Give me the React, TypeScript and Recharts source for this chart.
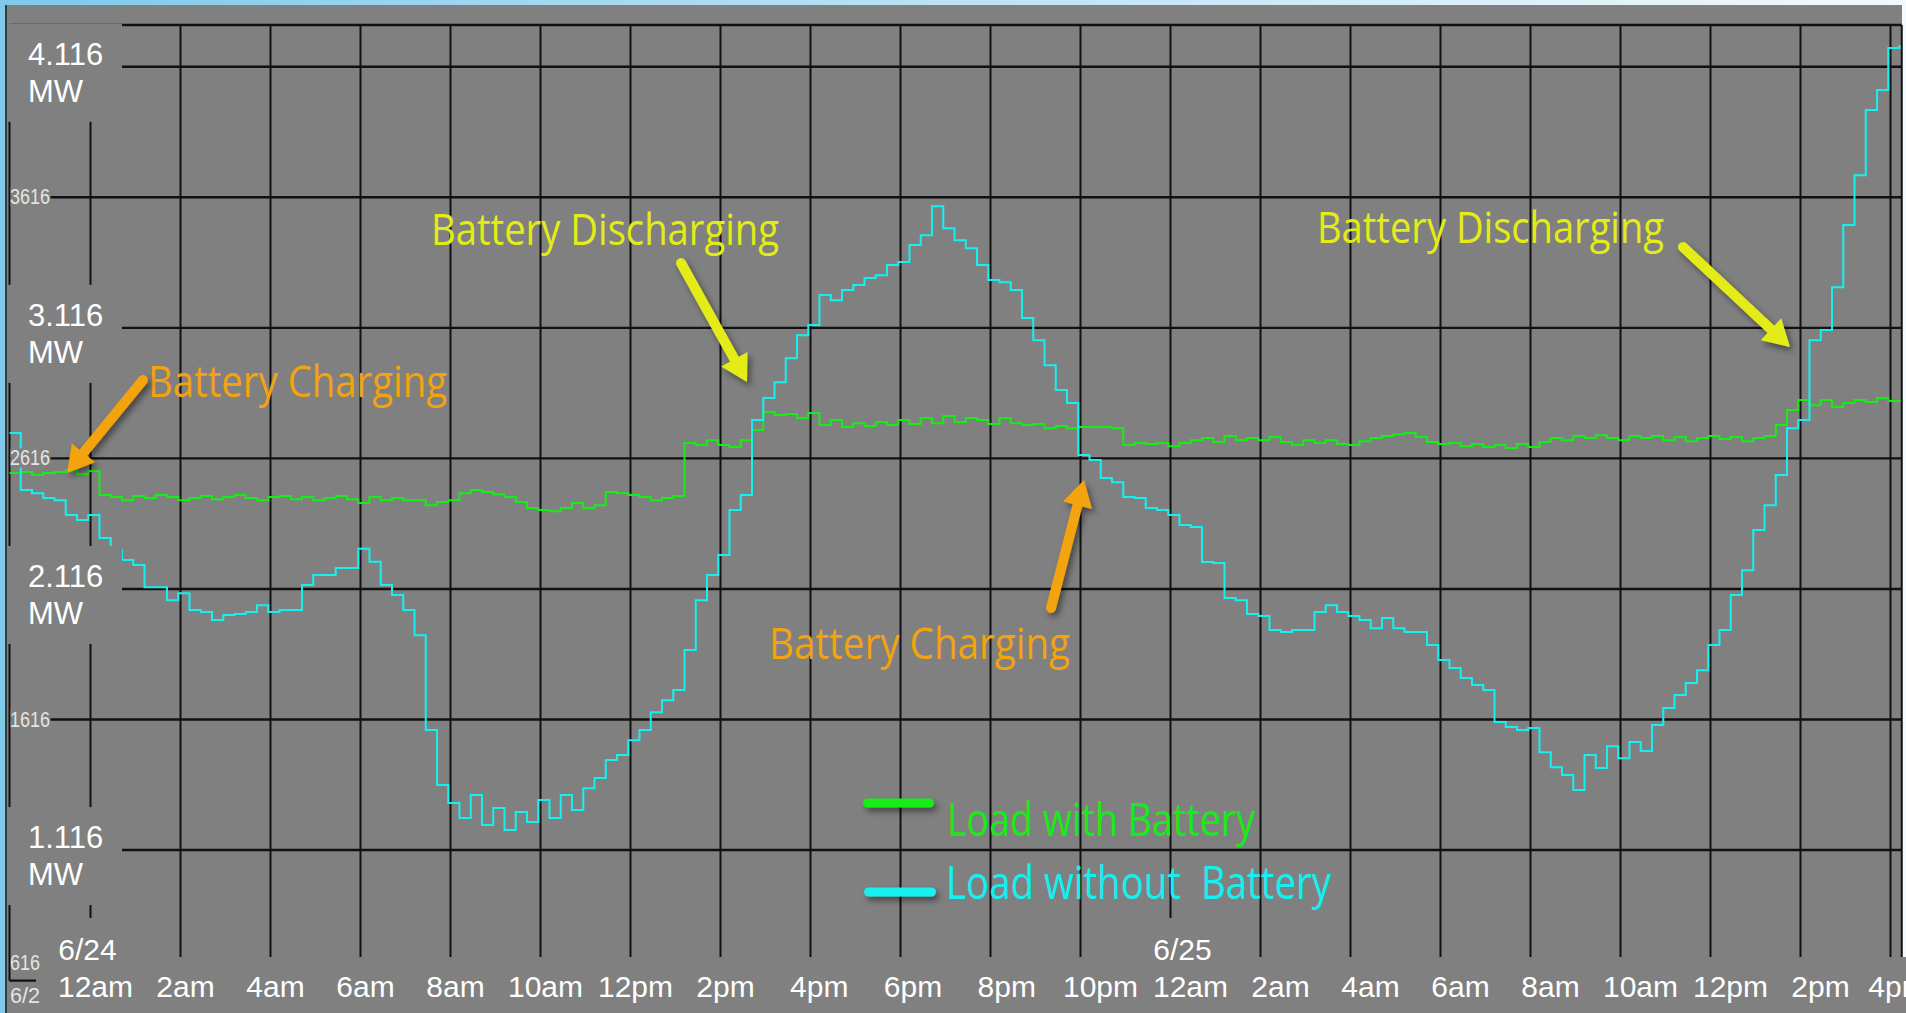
import { CartesianGrid, Line, LineChart, XAxis, YAxis } from "recharts";

// samples every 15 minutes, hours counted from 6/24 12am
const START_HOUR = -1.8;
const STEP_HOURS = 0.25;
const END_HOUR = 40.25;
const BOTTOM_MW = 0.616;
const TOP_MW = 4.276;

const xTicks = [-1.8, 0, 2, 4, 6, 8, 10, 12, 14, 16, 18, 20, 22, 24, 26, 28, 30, 32, 34, 36, 38, 40];
const xTickLabels = [
  "", "12am", "2am", "4am", "6am", "8am", "10am", "12pm", "2pm", "4pm", "6pm",
  "8pm", "10pm", "12am", "2am", "4am", "6am", "8am", "10am", "12pm", "2pm", "4pm",
];
const dateTicks = [0, 24];
const dateLabels = ["6/24", "6/25"];

const yTicks = [0.616, 1.116, 1.616, 2.116, 2.616, 3.116, 3.616, 4.116, 4.276];
const yTickLabels = ["616", "1.116 MW", "1616", "2.116 MW", "2616", "3.116 MW", "3616", "4.116 MW", ""];

// MW, load with battery (green)
const withBattery = [
  2.560, 2.564, 2.552, 2.560, 2.564, 2.571, 2.556, 2.568, 2.476, 2.468, 2.456, 2.472,
  2.464, 2.476, 2.468, 2.456, 2.464, 2.472, 2.460, 2.468, 2.476, 2.464, 2.456, 2.468,
  2.472, 2.460, 2.468, 2.456, 2.464, 2.472, 2.460, 2.445, 2.468, 2.456, 2.464, 2.456,
  2.456, 2.437, 2.449, 2.456, 2.483, 2.495, 2.487, 2.479, 2.468, 2.449, 2.426, 2.418,
  2.414, 2.426, 2.445, 2.426, 2.437, 2.487, 2.483, 2.476, 2.468, 2.456, 2.464, 2.472,
  2.675, 2.667, 2.686, 2.667, 2.660, 2.686, 2.725, 2.794, 2.782, 2.786, 2.771, 2.790,
  2.744, 2.763, 2.736, 2.751, 2.740, 2.755, 2.744, 2.763, 2.748, 2.771, 2.751, 2.778,
  2.755, 2.771, 2.763, 2.748, 2.771, 2.751, 2.744, 2.748, 2.732, 2.740, 2.732, 2.736,
  2.736, 2.736, 2.732, 2.667, 2.675, 2.671, 2.675, 2.663, 2.675, 2.686, 2.694, 2.679,
  2.702, 2.686, 2.694, 2.686, 2.698, 2.679, 2.667, 2.686, 2.675, 2.686, 2.671, 2.667,
  2.682, 2.694, 2.702, 2.709, 2.713, 2.698, 2.679, 2.671, 2.675, 2.663, 2.671, 2.660,
  2.667, 2.656, 2.671, 2.660, 2.679, 2.694, 2.686, 2.702, 2.694, 2.705, 2.694, 2.686,
  2.702, 2.694, 2.702, 2.686, 2.698, 2.682, 2.694, 2.702, 2.690, 2.698, 2.682, 2.694,
  2.702, 2.744, 2.801, 2.840, 2.820, 2.840, 2.813, 2.828, 2.840, 2.832, 2.847, 2.836, 2.840,
];

// MW, load without battery (cyan)
const withoutBattery = [
  2.713, 2.495, 2.483, 2.464, 2.456, 2.399, 2.380, 2.399, 2.311, 2.265, 2.227, 2.208,
  2.123, 2.123, 2.073, 2.100, 2.035, 2.028, 1.997, 2.016, 2.020, 2.028, 2.054, 2.028,
  2.035, 2.035, 2.131, 2.169, 2.169, 2.196, 2.196, 2.270, 2.220, 2.131, 2.093, 2.035,
  1.939, 1.576, 1.365, 1.296, 1.239, 1.327, 1.212, 1.277, 1.193, 1.262, 1.223, 1.308,
  1.239, 1.327, 1.269, 1.353, 1.392, 1.461, 1.480, 1.537, 1.576, 1.644, 1.690, 1.729,
  1.882, 2.073, 2.169, 2.246, 2.418, 2.476, 2.763, 2.847, 2.908, 3.000, 3.088, 3.127,
  3.242, 3.222, 3.261, 3.280, 3.307, 3.318, 3.357, 3.368, 3.433, 3.471, 3.582, 3.498,
  3.452, 3.421, 3.357, 3.299, 3.291, 3.261, 3.154, 3.069, 2.973, 2.878, 2.828, 2.629,
  2.610, 2.541, 2.525, 2.468, 2.464, 2.426, 2.418, 2.399, 2.361, 2.353, 2.219, 2.215,
  2.081, 2.073, 2.020, 2.012, 1.959, 1.951, 1.959, 1.959, 2.028, 2.054, 2.028, 2.012,
  1.997, 1.966, 2.005, 1.966, 1.951, 1.951, 1.901, 1.844, 1.813, 1.775, 1.748, 1.729,
  1.606, 1.587, 1.576, 1.583, 1.491, 1.433, 1.403, 1.346, 1.480, 1.430, 1.514, 1.468,
  1.530, 1.495, 1.595, 1.660, 1.710, 1.756, 1.805, 1.901, 1.959, 2.093, 2.188, 2.342,
  2.437, 2.552, 2.732, 2.763, 3.069, 3.108, 3.272, 3.510, 3.701, 3.950, 4.027, 4.188, 4.199,
];

const rows = withBattery.map((v, i) => ({
  t: START_HOUR + i * STEP_HOURS,
  withBattery: v,
  withoutBattery: withoutBattery[i],
}));

const GRAY = "#808080";
const GREEN = "#16EC16";
const CYAN = "#14F0F0";
const ORANGE = "#F2A30F";
const YELLOW = "#E3EC14";
const AXIS_FONT = "'Liberation Sans', Arial, sans-serif";
const NOTE_FONT = "'Open Sans', 'Noto Sans', sans-serif";

// the pasted labels drift right a little as the day goes on
function labelShift(t: number) {
  if (t >= 40) return 7;
  if (t <= 14) return 5;
  if (t >= 22) return 20;
  return 5 + ((t - 14) * 15) / 8;
}

function renderXTick(props: any) {
  const { x, payload } = props;
  const t = payload.value;
  const i = xTicks.indexOf(t);
  if (i === 0) {
    return <rect x={36} y={957} width={1870} height={56} fill={GRAY} />;
  }
  const cx = x + labelShift(t);
  const d = dateTicks.indexOf(t);
  return (
    <g>
      {d >= 0 && <rect x={x - 45} y={918} width={105} height={40} fill={GRAY} />}
      {d >= 0 && (
        <text x={cx - 8} y={960} textAnchor="middle" fill="#fff" fontSize={30} fontFamily={AXIS_FONT}>
          {dateLabels[d]}
        </text>
      )}
      <text x={cx} y={997} textAnchor="middle" fill="#fff" fontSize={30} fontFamily={AXIS_FONT}>
        {xTickLabels[i]}
      </text>
    </g>
  );
}

function renderYTick(props: any) {
  const { y, payload } = props;
  const i = yTicks.indexOf(payload.value);
  const label = yTickLabels[i];
  if (!label) return <g />;
  if (label.includes("MW")) {
    const [num, unit] = label.split(" ");
    return (
      <g>
        <rect x={7} y={y - 43} width={115} height={98} fill={GRAY} />
        <text x={28} y={y - 2} fill="#fff" fontSize={31} fontFamily={AXIS_FONT}>
          {num}
        </text>
        <text x={28} y={y + 35} fill="#fff" fontSize={31} fontFamily={AXIS_FONT}>
          {unit}
        </text>
      </g>
    );
  }
  if (i === 0) {
    return (
      <g fill="#e4e4e4" fontSize={22} fontFamily={AXIS_FONT}>
        <text x={10} y={y - 11} textLength={30} lengthAdjust="spacingAndGlyphs">{label}</text>
        <text x={10} y={y + 22} textLength={30} lengthAdjust="spacingAndGlyphs">6/2</text>
      </g>
    );
  }
  return (
    <g>
      <rect x={10.5} y={y - 10} width={40} height={19} fill={GRAY} />
      <text x={10} y={y + 7} fill="#e4e4e4" fontSize={22} fontFamily={AXIS_FONT} textLength={40} lengthAdjust="spacingAndGlyphs">
        {label}
      </text>
    </g>
  );
}

const notes = [
  { text: "Battery Charging", x: 148, y: 397, w: 299, color: ORANGE },
  { text: "Battery Discharging", x: 431, y: 245, w: 348, color: YELLOW },
  { text: "Battery Discharging", x: 1317, y: 243, w: 347, color: YELLOW },
  { text: "Battery Charging", x: 769, y: 659, w: 301, color: ORANGE },
];

const arrows = [
  { x1: 143, y1: 380, x2: 67, y2: 473, color: ORANGE },
  { x1: 681, y1: 263, x2: 747, y2: 382, color: YELLOW },
  { x1: 1051, y1: 608, x2: 1084, y2: 480, color: ORANGE },
  { x1: 1683, y1: 247, x2: 1790, y2: 347, color: YELLOW },
];

function Arrow({ x1, y1, x2, y2, color }: { x1: number; y1: number; x2: number; y2: number; color: string }) {
  const len = Math.hypot(x2 - x1, y2 - y1);
  const ux = (x2 - x1) / len;
  const uy = (y2 - y1) / len;
  const head = 26;
  const half = 15;
  const bx = x2 - ux * head;
  const by = y2 - uy * head;
  return (
    <g filter="url(#dropShadow)">
      <line x1={x1} y1={y1} x2={bx + ux * 3} y2={by + uy * 3} stroke={color} strokeWidth={10} strokeLinecap="round" />
      <polygon
        points={`${x2},${y2} ${bx - uy * half},${by + ux * half} ${bx + uy * half},${by - ux * half}`}
        fill={color}
      />
    </g>
  );
}

function Overlay() {
  return (
    <svg width={1906} height={1013} style={{ position: "absolute", left: 0, top: 0, pointerEvents: "none" }}>
      <defs>
        <filter id="dropShadow" filterUnits="userSpaceOnUse" x={0} y={0} width={1906} height={1013}>
          <feDropShadow dx={3} dy={4} stdDeviation={3} floodColor="#000" floodOpacity={0.45} />
        </filter>
      </defs>
      {notes.map((n, i) => (
        <text key={i} x={n.x} y={n.y} fill={n.color} fontSize={44} fontFamily={NOTE_FONT} textLength={n.w} lengthAdjust="spacingAndGlyphs">
          {n.text}
        </text>
      ))}
      {arrows.map((a, i) => (
        <Arrow key={i} {...a} />
      ))}
      {/* legend */}
      <rect x={863} y={798.5} width={71} height={9} rx={4.5} fill={GREEN} filter="url(#dropShadow)" />
      <rect x={864} y={887.5} width={72} height={9} rx={4.5} fill={CYAN} filter="url(#dropShadow)" />
      <text x={947} y={836} fill={GREEN} fontSize={46} fontFamily={NOTE_FONT} textLength={308} lengthAdjust="spacingAndGlyphs">
        Load with Battery
      </text>
      <text x={946} y={899} fill={CYAN} fontSize={46} fontFamily={NOTE_FONT} textLength={385} lengthAdjust="spacingAndGlyphs" style={{ whiteSpace: "pre" }}>
        Load without  Battery
      </text>
    </svg>
  );
}

export default function App() {
  return (
    <div
      style={{
        position: "absolute",
        left: 0,
        top: 0,
        width: 1906,
        height: 1013,
        overflow: "hidden",
        background: "linear-gradient(90deg, #7fc9ea 0%, #b6e0f4 45%, #f3f9fd 100%)",
      }}
    >
      <div
        style={{
          position: "absolute",
          left: 5,
          top: 5,
          width: 1897,
          height: 1008,
          background: GRAY,
          borderLeft: "2px solid #3a3a3a",
          boxSizing: "border-box",
        }}
      />
      <div style={{ position: "absolute", left: 0, top: 0 }}>
        <LineChart width={1906} height={1013} data={rows} margin={{ top: 25, right: 4.25, bottom: 0, left: 8.5 }}>
          <CartesianGrid horizontal vertical={false} stroke="#111" strokeWidth={2.4} />
          <CartesianGrid horizontal={false} vertical stroke="#111" strokeWidth={2} />
          <Line
            type="stepAfter"
            dataKey="withBattery"
            stroke={GREEN}
            strokeWidth={2}
            dot={false}
            isAnimationActive={false}
          />
          <Line
            type="stepAfter"
            dataKey="withoutBattery"
            stroke={CYAN}
            strokeWidth={2}
            dot={false}
            isAnimationActive={false}
          />
          <XAxis
            dataKey="t"
            type="number"
            domain={[START_HOUR, END_HOUR]}
            ticks={xTicks}
            interval={0}
            height={32.4}
            axisLine={false}
            tickLine={false}
            tick={renderXTick}
          />
          <YAxis
            type="number"
            domain={[BOTTOM_MW, TOP_MW]}
            ticks={yTicks}
            interval={0}
            width={1}
            axisLine={false}
            tickLine={false}
            tick={renderYTick}
          />
        </LineChart>
      </div>
      <Overlay />
    </div>
  );
}
